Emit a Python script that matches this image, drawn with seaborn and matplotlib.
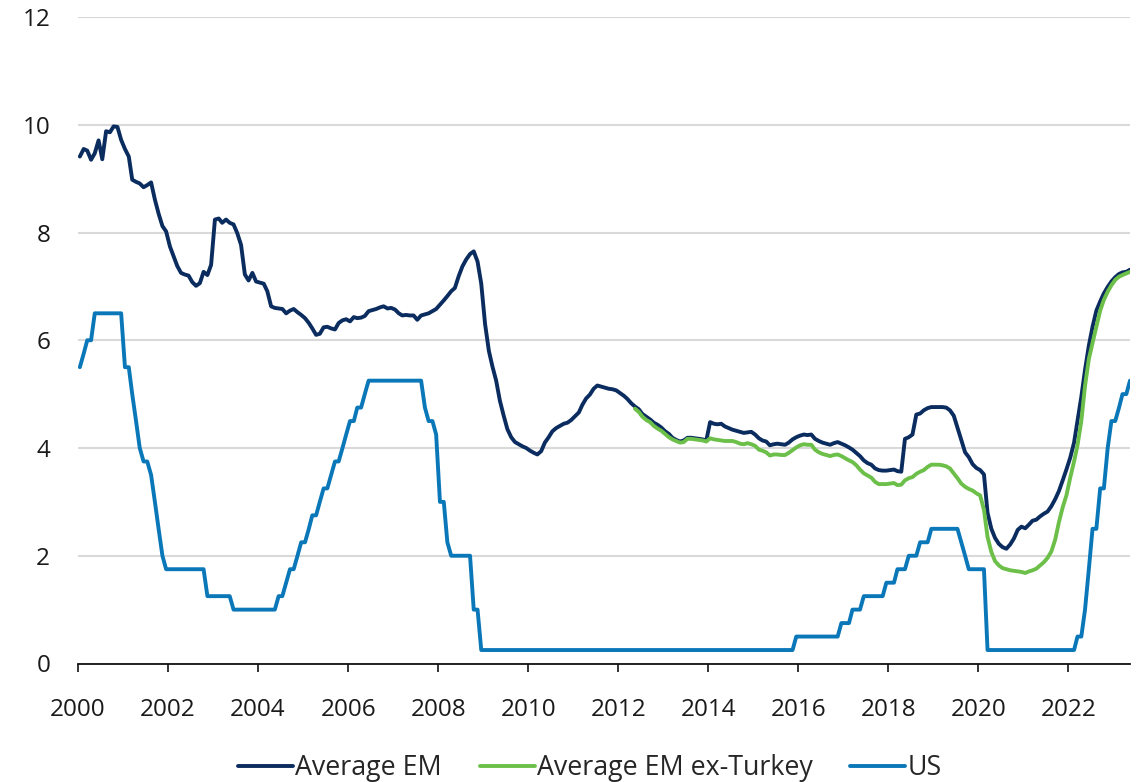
import numpy as np
import pandas as pd
import matplotlib
matplotlib.use("Agg")
import matplotlib.pyplot as plt
import seaborn as sns

# ---------------- data (monthly, Jan 2000 - May 2023) ----------------
start_month = "2000-01"
n_months = 281
green_start_month = "2012-05"

avg_em = [
    9.41, 9.55, 9.52, 9.35, 9.47, 9.71, 9.36, 9.88, 9.86, 9.97, 9.96, 9.72,   # 2000
    9.55, 9.41, 8.98, 8.94, 8.91, 8.84, 8.88, 8.93, 8.61, 8.35, 8.12, 8.02,   # 2001
    7.74, 7.55, 7.38, 7.25, 7.22, 7.20, 7.08, 7.01, 7.06, 7.27, 7.21, 7.40,   # 2002
    8.24, 8.26, 8.18, 8.24, 8.18, 8.15, 7.99, 7.77, 7.22, 7.11, 7.25, 7.09,   # 2003
    7.07, 7.05, 6.91, 6.63, 6.60, 6.59, 6.58, 6.50, 6.55, 6.58, 6.52, 6.47,   # 2004
    6.41, 6.32, 6.22, 6.10, 6.12, 6.24, 6.25, 6.22, 6.20, 6.32, 6.37, 6.39,   # 2005
    6.35, 6.43, 6.41, 6.42, 6.45, 6.54, 6.56, 6.58, 6.61, 6.63, 6.59, 6.60,   # 2006
    6.57, 6.50, 6.46, 6.47, 6.46, 6.46, 6.38, 6.46, 6.48, 6.50, 6.54, 6.58,   # 2007
    6.66, 6.74, 6.82, 6.91, 6.97, 7.19, 7.37, 7.50, 7.60, 7.65, 7.46, 7.05,   # 2008
    6.30, 5.80, 5.52, 5.25, 4.88, 4.60, 4.35, 4.20, 4.11, 4.07, 4.03, 4.00,   # 2009
    3.95, 3.91, 3.88, 3.94, 4.10, 4.20, 4.31, 4.37, 4.41, 4.45, 4.47, 4.52,   # 2010
    4.59, 4.66, 4.80, 4.92, 4.99, 5.10, 5.16, 5.14, 5.12, 5.10, 5.09, 5.07,   # 2011
    5.02, 4.97, 4.91, 4.83, 4.77, 4.72, 4.63, 4.58, 4.53, 4.47, 4.43, 4.38,   # 2012
    4.31, 4.26, 4.19, 4.15, 4.12, 4.14, 4.19, 4.19, 4.18, 4.17, 4.16, 4.14,   # 2013
    4.48, 4.45, 4.44, 4.45, 4.40, 4.37, 4.34, 4.32, 4.30, 4.28, 4.29, 4.30,   # 2014
    4.25, 4.18, 4.14, 4.12, 4.05, 4.07, 4.08, 4.07, 4.06, 4.10, 4.16, 4.20,   # 2015
    4.23, 4.25, 4.24, 4.25, 4.17, 4.13, 4.10, 4.08, 4.06, 4.09, 4.11, 4.08,   # 2016
    4.05, 4.01, 3.97, 3.91, 3.85, 3.77, 3.72, 3.69, 3.62, 3.59, 3.58, 3.58,   # 2017
    3.59, 3.60, 3.57, 3.56, 4.17, 4.20, 4.25, 4.62, 4.64, 4.70, 4.74, 4.76,   # 2018
    4.76, 4.76, 4.76, 4.75, 4.70, 4.60, 4.38, 4.15, 3.92, 3.83, 3.70, 3.63,   # 2019
    3.59, 3.51, 2.80, 2.50, 2.33, 2.22, 2.16, 2.13, 2.21, 2.32, 2.48, 2.54,   # 2020
    2.51, 2.58, 2.65, 2.67, 2.73, 2.78, 2.82, 2.92, 3.05, 3.20, 3.40, 3.60,   # 2021
    3.82, 4.10, 4.50, 4.95, 5.45, 5.90, 6.25, 6.55, 6.72, 6.87, 6.99, 7.09,   # 2022
    7.17, 7.23, 7.26, 7.27, 7.31,                                             # 2023
]

avg_em_ex_turkey = [
    4.73, 4.67, 4.58, 4.52, 4.48, 4.41, 4.36, 4.32,                           # 2012 (May-Dec)
    4.26, 4.20, 4.16, 4.13, 4.10, 4.11, 4.17, 4.17, 4.16, 4.15, 4.14, 4.12,   # 2013
    4.18, 4.16, 4.15, 4.14, 4.13, 4.13, 4.13, 4.11, 4.08, 4.07, 4.09, 4.07,   # 2014
    4.04, 3.97, 3.95, 3.92, 3.86, 3.88, 3.88, 3.87, 3.87, 3.91, 3.96, 4.01,   # 2015
    4.05, 4.07, 4.06, 4.06, 3.97, 3.92, 3.89, 3.87, 3.85, 3.87, 3.88, 3.85,   # 2016
    3.81, 3.77, 3.74, 3.68, 3.60, 3.53, 3.49, 3.45, 3.37, 3.33, 3.33, 3.33,   # 2017
    3.34, 3.35, 3.31, 3.32, 3.40, 3.44, 3.46, 3.52, 3.56, 3.59, 3.65, 3.69,   # 2018
    3.69, 3.69, 3.68, 3.66, 3.62, 3.53, 3.44, 3.34, 3.28, 3.24, 3.21, 3.16,   # 2019
    3.12, 2.85, 2.35, 2.07, 1.90, 1.82, 1.77, 1.75, 1.73, 1.72, 1.71, 1.70,   # 2020
    1.68, 1.71, 1.73, 1.76, 1.82, 1.88, 1.96, 2.08, 2.30, 2.62, 2.90, 3.12,   # 2021
    3.45, 3.75, 4.05, 4.50, 5.15, 5.65, 5.95, 6.25, 6.55, 6.75, 6.90, 7.02,   # 2022
    7.12, 7.18, 7.21, 7.24, 7.27,                                             # 2023
]

us = [
    5.50, 5.75, 6.00, 6.00, 6.50, 6.50, 6.50, 6.50, 6.50, 6.50, 6.50, 6.50,   # 2000
    5.50, 5.50, 5.00, 4.50, 4.00, 3.75, 3.75, 3.50, 3.00, 2.50, 2.00, 1.75,   # 2001
    1.75, 1.75, 1.75, 1.75, 1.75, 1.75, 1.75, 1.75, 1.75, 1.75, 1.25, 1.25,   # 2002
    1.25, 1.25, 1.25, 1.25, 1.25, 1.00, 1.00, 1.00, 1.00, 1.00, 1.00, 1.00,   # 2003
    1.00, 1.00, 1.00, 1.00, 1.00, 1.25, 1.25, 1.50, 1.75, 1.75, 2.00, 2.25,   # 2004
    2.25, 2.50, 2.75, 2.75, 3.00, 3.25, 3.25, 3.50, 3.75, 3.75, 4.00, 4.25,   # 2005
    4.50, 4.50, 4.75, 4.75, 5.00, 5.25, 5.25, 5.25, 5.25, 5.25, 5.25, 5.25,   # 2006
    5.25, 5.25, 5.25, 5.25, 5.25, 5.25, 5.25, 5.25, 4.75, 4.50, 4.50, 4.25,   # 2007
    3.00, 3.00, 2.25, 2.00, 2.00, 2.00, 2.00, 2.00, 2.00, 1.00, 1.00, 0.25,   # 2008
    0.25, 0.25, 0.25, 0.25, 0.25, 0.25, 0.25, 0.25, 0.25, 0.25, 0.25, 0.25,   # 2009
    0.25, 0.25, 0.25, 0.25, 0.25, 0.25, 0.25, 0.25, 0.25, 0.25, 0.25, 0.25,   # 2010
    0.25, 0.25, 0.25, 0.25, 0.25, 0.25, 0.25, 0.25, 0.25, 0.25, 0.25, 0.25,   # 2011
    0.25, 0.25, 0.25, 0.25, 0.25, 0.25, 0.25, 0.25, 0.25, 0.25, 0.25, 0.25,   # 2012
    0.25, 0.25, 0.25, 0.25, 0.25, 0.25, 0.25, 0.25, 0.25, 0.25, 0.25, 0.25,   # 2013
    0.25, 0.25, 0.25, 0.25, 0.25, 0.25, 0.25, 0.25, 0.25, 0.25, 0.25, 0.25,   # 2014
    0.25, 0.25, 0.25, 0.25, 0.25, 0.25, 0.25, 0.25, 0.25, 0.25, 0.25, 0.50,   # 2015
    0.50, 0.50, 0.50, 0.50, 0.50, 0.50, 0.50, 0.50, 0.50, 0.50, 0.50, 0.75,   # 2016
    0.75, 0.75, 1.00, 1.00, 1.00, 1.25, 1.25, 1.25, 1.25, 1.25, 1.25, 1.50,   # 2017
    1.50, 1.50, 1.75, 1.75, 1.75, 2.00, 2.00, 2.00, 2.25, 2.25, 2.25, 2.50,   # 2018
    2.50, 2.50, 2.50, 2.50, 2.50, 2.50, 2.50, 2.25, 2.00, 1.75, 1.75, 1.75,   # 2019
    1.75, 1.75, 0.25, 0.25, 0.25, 0.25, 0.25, 0.25, 0.25, 0.25, 0.25, 0.25,   # 2020
    0.25, 0.25, 0.25, 0.25, 0.25, 0.25, 0.25, 0.25, 0.25, 0.25, 0.25, 0.25,   # 2021
    0.25, 0.25, 0.50, 0.50, 1.00, 1.75, 2.50, 2.50, 3.25, 3.25, 4.00, 4.50,   # 2022
    4.50, 4.75, 5.00, 5.00, 5.25,                                             # 2023
]

series_names = ["Average EM", "Average EM ex-Turkey", "US"]
series_colors = ["#0b2c5f", "#6cc04a", "#0a77b8"]
y_ticks = [0, 2, 4, 6, 8, 10, 12]
x_tick_years = list(range(2000, 2023, 2))

# ---------------- build frame ----------------
months = pd.period_range(start_month, periods=n_months, freq="M").to_timestamp() + pd.Timedelta(days=15)
green_months = pd.period_range(green_start_month, periods=len(avg_em_ex_turkey), freq="M").to_timestamp() + pd.Timedelta(days=15)

df = pd.concat([
    pd.DataFrame({"date": months, "value": avg_em, "series": series_names[0]}),
    pd.DataFrame({"date": green_months, "value": avg_em_ex_turkey, "series": series_names[1]}),
    pd.DataFrame({"date": months, "value": us, "series": series_names[2]}),
], ignore_index=True)

# ---------------- style ----------------
sns.set_theme(style="white")
plt.rcParams["font.family"] = ["Open Sans", "DejaVu Sans"]

fig = plt.figure(figsize=(11.36, 7.82), dpi=100)
ax = fig.add_axes([78 / 1136, 1 - 663.5 / 782, (1130 - 78) / 1136, (663.5 - 17) / 782])

sns.lineplot(data=df, x="date", y="value", hue="series", hue_order=series_names,
             palette=dict(zip(series_names, series_colors)), linewidth=2.8,
             estimator=None, ax=ax)

ax.set_ylim(0, 12)
ax.set_xlim(pd.Timestamp("2000-01-01"), months[-1])
ax.set_yticks(y_ticks)
ax.set_yticklabels([str(v) for v in y_ticks])
ax.set_xticks([pd.Timestamp(f"{y}-01-01") for y in x_tick_years])
ax.set_xticklabels([str(y) for y in x_tick_years])
ax.set_xlabel("")
ax.set_ylabel("")

ax.yaxis.grid(True, color="#d9d9d9", linewidth=1.5)
ax.xaxis.grid(False)
ax.set_axisbelow(True)
for s in ["left", "right", "top"]:
    ax.spines[s].set_visible(False)
ax.spines["bottom"].set_color("#111111")
ax.spines["bottom"].set_linewidth(1.3)

ax.tick_params(axis="y", length=0, pad=20, labelsize=17.5, labelcolor="#1a1a1a")
ax.tick_params(axis="x", length=6, width=1.2, color="#111111", direction="out",
               pad=19, labelsize=17.5, labelcolor="#1a1a1a", bottom=True)

handles, labels = ax.get_legend_handles_labels()
ax.get_legend().remove()
leg = fig.legend(handles, labels, loc="center", bbox_to_anchor=(590 / 1136, 1 - 768 / 782),
                 ncol=3, frameon=False, fontsize=19.3, handlelength=2.05, handletextpad=0.1,
                 columnspacing=1.4, borderaxespad=0)
for h in leg.get_lines():
    h.set_linewidth(2.8)

fig.savefig("out.png", dpi=100)
